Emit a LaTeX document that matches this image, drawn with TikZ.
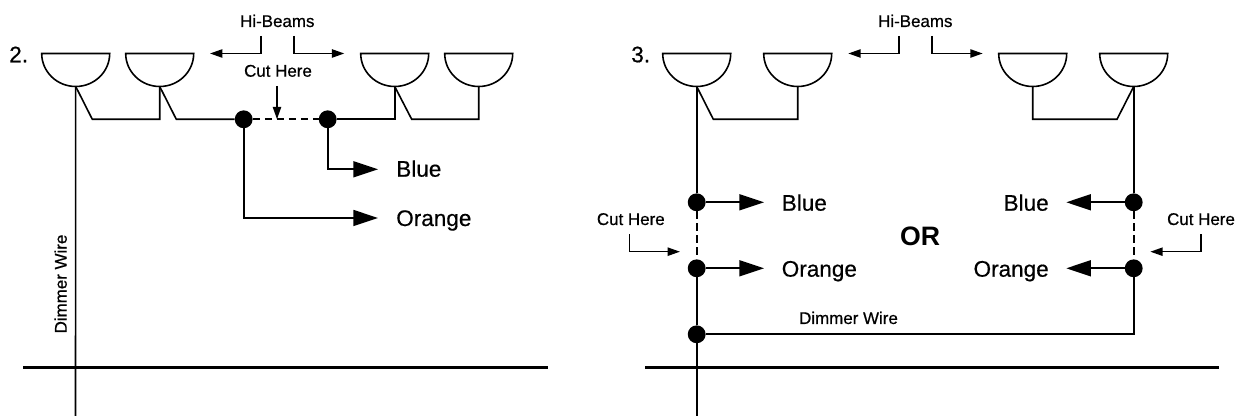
\documentclass[tikz,border=0pt]{standalone}
\usepackage{fontspec}
\setmainfont{Liberation Sans}
\newfontfamily\heavyfont{Liberation Sans Bold}
\newfontfamily\labelfont[FakeBold=0.55]{Liberation Sans}
\usetikzlibrary{arrows.meta}
\tikzset{
    wire/.style={line width=1.2pt},
    thickwire/.style={line width=2.5pt},
    cutwire/.style={line width=1.2pt, dash pattern=on 5.5pt off 3.5pt},
    bigarrow/.style={wire, -{Triangle[length=18.5pt,width=12pt]}},
    smallarrow/.style={wire, -{Triangle[length=9.3pt,width=6.2pt]}},
    junction/.style={circle, fill=black, inner sep=0pt, minimum size=13.4pt},
    small/.style={inner sep=0pt, font=\labelfont\fontsize{12.7}{14}\selectfont},
    big/.style={inner sep=0pt, font=\labelfont\fontsize{16.9}{19}\selectfont},
    lamp/.pic={\draw[wire] (-34,33) arc[start angle=180, end angle=360, x radius=34, y radius=33] -- cycle;}
}
\begin{document}
\begin{tikzpicture}[x=0.75pt, y=0.75pt]
    \useasboundingbox (0,0) rectangle (1237,416);
    % lamps, named at their lowest point
    \foreach \name/\x in {LA/75.7, LB/159.7, LC/394.7, LD/478.7, RA/696.7, RB/797.7, RC/1032.7, RD/1133.7} {
        \coordinate (\name) at (\x,329.5);
        \pic at (\name) {lamp};
    }
    % left side
    \node[big, anchor=base west] (TwoNum) at (9,353.7) {2.};
    \node[small, anchor=base] (HiL) at (277.3,389) {Hi-Beams};
    \node[small, anchor=base] (CutT) at (278,339.3) {Cut Here};
    \node[small, anchor=base, rotate=90] (DimL) at (66.7,132) {Dimmer Wire};
    \node[big, anchor=base west] (BlueL) at (396,239.3) {Blue};
    \node[big, anchor=base west] (OrangeL) at (396,190) {Orange};
    \node[junction] (JA) at (243.7,296.7) {};
    \node[junction] (JB) at (327.7,296.7) {};
    \coordinate (GndL) at (75.5,0);
    \coordinate (BarLa) at (23.3,48.7);
    \coordinate (BarLb) at (547.5,48.7);
    \coordinate (SlantA) at (92.3,296.7);
    \coordinate (SlantB) at (176.3,296.7);
    \coordinate (SlantC) at (411.7,296.7);
    \coordinate (TipBlueL) at (378,246.7);
    \coordinate (TipOrangeL) at (378,198);
    \coordinate (HiLa) at (260.7,380);
    \coordinate (HiLb) at (293.7,380);
    \coordinate (TipHiLa) at (210,362.5);
    \coordinate (TipHiLb) at (344.3,362.5);
    \coordinate (CutTop) at (277,330);
    \coordinate (CutTip) at (277,296.7);
    \draw[wire] (LA) -- (GndL);
    \draw[wire] (LA) -- (SlantA) -| (LB);
    \draw[wire] (LB) -- (SlantB) -- (JA);
    \draw[cutwire] (JA) -- (JB);
    \draw[wire] (JB) -| (LC);
    \draw[wire] (LC) -- (SlantC) -| (LD);
    \draw[bigarrow] (JB) |- (TipBlueL);
    \draw[bigarrow] (JA) |- (TipOrangeL);
    \draw[smallarrow] (HiLa) |- (TipHiLa);
    \draw[smallarrow] (HiLb) |- (TipHiLb);
    \draw[smallarrow] (CutTop) -- (CutTip);
    \draw[thickwire] (BarLa) -- (BarLb);
    % right side
    \node[big, anchor=base west] (ThreeNum) at (631,353.7) {3.};
    \node[small, anchor=base] (HiR) at (915.3,389) {Hi-Beams};
    \node[small, anchor=base] (CutA) at (630.8,191) {Cut Here};
    \node[small, anchor=base] (CutB) at (1201,191) {Cut Here};
    \node[small, anchor=base] (DimR) at (848.5,92) {Dimmer Wire};
    \node[anchor=base, inner sep=0pt, font=\heavyfont\fontsize{20}{22}\selectfont] (OrTxt) at (920,170) {OR};
    \node[big, anchor=base west] (BlueA) at (781.5,205.3) {Blue};
    \node[big, anchor=base west] (OrangeA) at (781.5,139.3) {Orange};
    \node[big, anchor=base east] (BlueB) at (1049,205.3) {Blue};
    \node[big, anchor=base east] (OrangeB) at (1049,139.3) {Orange};
    \node[junction] (JC) at (696.7,213.7) {};
    \node[junction] (JD) at (696.7,147.7) {};
    \node[junction] (JE) at (696.7,81.7) {};
    \node[junction] (JF) at (1133.7,213.7) {};
    \node[junction] (JG) at (1133.7,147.7) {};
    \coordinate (GndR) at (696.7,0);
    \coordinate (BarRa) at (645,48.7);
    \coordinate (BarRb) at (1219,48.7);
    \coordinate (SlantD) at (713.3,296.7);
    \coordinate (SlantE) at (1117,296.7);
    \coordinate (StemC) at (1032.7,296.7);
    \coordinate (TipBlueA) at (764,213.7);
    \coordinate (TipOrangeA) at (764,147.7);
    \coordinate (TipBlueB) at (1066.3,213.7);
    \coordinate (TipOrangeB) at (1066.3,147.7);
    \coordinate (HiRa) at (898.7,380);
    \coordinate (HiRb) at (931.7,380);
    \coordinate (TipHiRa) at (848.3,362.5);
    \coordinate (TipHiRb) at (982.7,362.5);
    \coordinate (CutAa) at (629.3,181.7);
    \coordinate (CutBa) at (1201,181.7);
    \coordinate (TipCutA) at (680,164.3);
    \coordinate (TipCutB) at (1150.3,164.3);
    \draw[wire] (RA) -- (JC);
    \draw[cutwire] (JC) -- (JD);
    \draw[wire] (JD) -- (JE);
    \draw[wire] (JE) -- (GndR);
    \draw[wire] (RA) -- (SlantD) -| (RB);
    \draw[wire] (RC) -- (StemC) -- (SlantE) -- (RD);
    \draw[wire] (RD) -- (JF);
    \draw[cutwire] (JF) -- (JG);
    \draw[wire] (JG) |- (JE);
    \draw[bigarrow] (JC) -- (TipBlueA);
    \draw[bigarrow] (JD) -- (TipOrangeA);
    \draw[bigarrow] (JF) -- (TipBlueB);
    \draw[bigarrow] (JG) -- (TipOrangeB);
    \draw[smallarrow] (HiRa) |- (TipHiRa);
    \draw[smallarrow] (HiRb) |- (TipHiRb);
    \draw[smallarrow] (CutAa) |- (TipCutA);
    \draw[smallarrow] (CutBa) |- (TipCutB);
    \draw[thickwire] (BarRa) -- (BarRb);
\end{tikzpicture}
\end{document}
